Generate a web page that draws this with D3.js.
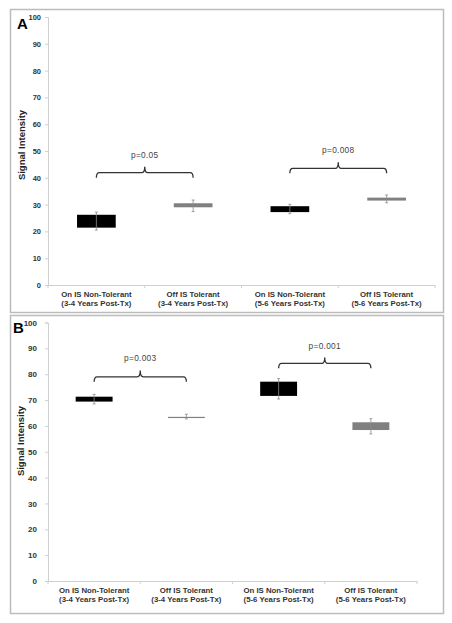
<!DOCTYPE html>
<html><head><meta charset="utf-8">
<script src="https://cdn.jsdelivr.net/npm/d3@7"></script>
<style>
html,body{margin:0;padding:0;background:#fff;}
svg{display:block;}
</style></head>
<body>
<script>
// ---- DATA ----
const labelLine1 = ["On IS Non-Tolerant", "Off IS Tolerant", "On IS Non-Tolerant", "Off IS Tolerant"];
const labelLine2 = ["(3-4 Years Post-Tx)", "(3-4 Years Post-Tx)", "(5-6 Years Post-Tx)", "(5-6 Years Post-Tx)"];
const boxColors = ["#000000", "#808080", "#000000", "#808080"];
const yTicks = [0, 10, 20, 30, 40, 50, 60, 70, 80, 90, 100];

// Panel A
const aBoxLow  = [21.4, 29.0, 27.2, 31.5];
const aBoxHigh = [26.2, 30.5, 29.4, 32.6];
const aWhiskLow  = [20.5, 27.4, 26.6, 30.7];
const aWhiskHigh = [27.2, 31.7, 30.1, 33.6];
const aPFrom = [0, 2];
const aPTo = [1, 3];
const aPEnd = [40.0, 41.7];
const aPBar = [41.9, 43.5];
const aPSpike = [44.1, 45.8];
const aPLabel = ["p=0.05", "p=0.008"];
const aPLabelY = [48.6, 50.4];

// Panel B
const bBoxLow  = [69.4, 63.1, 71.6, 58.4];
const bBoxHigh = [71.3, 63.5, 77.1, 61.4];
const bWhiskLow  = [68.5, 62.7, 70.4, 56.9];
const bWhiskHigh = [72.2, 64.5, 78.3, 62.8];
const bPFrom = [0, 2];
const bPTo = [1, 3];
const bPEnd = [77.1, 82.3];
const bPBar = [79.0, 84.2];
const bPSpike = [81.4, 86.5];
const bPLabel = ["p=0.003", "p=0.001"];
const bPLabelY = [86.2, 91.0];

const W = 452, H = 623;
const svg = d3.select("body").append("svg").attr("width", W).attr("height", H);
const NARROW = "'Liberation Sans Narrow', 'Arial Narrow', 'Liberation Sans', Arial, sans-serif";
const SANS = "'Liberation Sans', Arial, sans-serif";

function panel(cfg) {
  const g = svg.append("g");
  // frame
  g.append("rect").attr("x", cfg.frame[0] + 0.5).attr("y", cfg.frame[1] + 0.5)
    .attr("width", cfg.frame[2]).attr("height", cfg.frame[3])
    .attr("fill", "#fff").attr("stroke", "#bcbcbc").attr("stroke-width", 1.5);

  const x = d3.scaleBand().domain(d3.range(labelLine1.length)).range([cfg.x0, cfg.x1]).padding(0);
  const y = d3.scaleLinear().domain([0, 100]).range([cfg.y0, cfg.y1]);

  // y axis
  const ya = g.append("g").attr("transform", `translate(${cfg.x0},0)`)
    .call(d3.axisLeft(y).tickValues(yTicks).tickSize(3).tickPadding(cfg.tickPad));
  ya.select(".domain").attr("stroke", "#d0d0d0");
  ya.selectAll(".tick line").attr("stroke", "#d0d0d0");
  ya.selectAll(".tick text").attr("font-family", NARROW).attr("font-weight", "bold")
    .attr("font-size", cfg.tickFont).attr("fill", "#333");

  // x axis
  const xa = g.append("g").attr("transform", `translate(0,${cfg.y0})`)
    .call(d3.axisBottom(x).tickSize(0).tickFormat(""));
  xa.select(".domain").attr("stroke", "#d0d0d0");
  // category separator ticks
  const edges = d3.range(labelLine1.length + 1).map(i => i < labelLine1.length ? x(i) : x(labelLine1.length - 1) + x.bandwidth());
  g.selectAll("line.sep").data(edges).join("line").attr("class", "sep")
    .attr("x1", d => d).attr("x2", d => d).attr("y1", cfg.y0).attr("y2", cfg.y0 + 3)
    .attr("stroke", "#d0d0d0");

  // x labels
  g.selectAll("text.xl").data(labelLine1).join("text").attr("class", "xl")
    .attr("x", (d, i) => x(i) + x.bandwidth() / 2).attr("y", cfg.y0 + 12)
    .attr("text-anchor", "middle").attr("font-family", NARROW).attr("font-weight", "bold")
    .attr("font-size", 7.8).attr("fill", "#333").text(d => d);
  g.selectAll("text.xl2").data(labelLine2).join("text").attr("class", "xl2")
    .attr("x", (d, i) => x(i) + x.bandwidth() / 2).attr("y", cfg.y0 + 21)
    .attr("text-anchor", "middle").attr("font-family", NARROW).attr("font-weight", "bold")
    .attr("font-size", 7.8).attr("fill", "#333").text(d => d);

  // y title
  g.append("text").attr("transform", `translate(${cfg.titleX},${cfg.titleY}) rotate(-90)`)
    .attr("text-anchor", "middle").attr("font-family", NARROW).attr("font-weight", "bold")
    .attr("font-size", 9.5).attr("fill", "#222").text("Signal Intensity");

  // panel letter
  g.append("text").attr("x", cfg.letterX).attr("y", cfg.letterY)
    .attr("font-family", SANS).attr("font-weight", "bold").attr("font-size", 15)
    .attr("fill", "#000").text(cfg.letter);

  const bw = x.bandwidth() * 0.4;
  const cx = i => x(i) + x.bandwidth() / 2;

  // boxes
  g.selectAll("rect.box").data(cfg.boxLow).join("rect").attr("class", "box")
    .attr("x", (d, i) => cx(i) - bw / 2).attr("width", bw)
    .attr("y", (d, i) => y(cfg.boxHigh[i]))
    .attr("height", (d, i) => Math.max(1.2, y(d) - y(cfg.boxHigh[i])))
    .attr("fill", (d, i) => boxColors[i]);

  // whiskers
  const wg = g.selectAll("g.wh").data(cfg.boxLow).join("g").attr("class", "wh");
  wg.append("line").attr("x1", (d, i) => cx(i)).attr("x2", (d, i) => cx(i))
    .attr("y1", (d, i) => y(cfg.whiskLow[i])).attr("y2", (d, i) => y(cfg.whiskHigh[i]))
    .attr("stroke", "#8a8a8a").attr("stroke-width", 0.8);
  wg.append("line").attr("x1", (d, i) => cx(i) - 1.5).attr("x2", (d, i) => cx(i) + 1.5)
    .attr("y1", (d, i) => y(cfg.whiskLow[i])).attr("y2", (d, i) => y(cfg.whiskLow[i]))
    .attr("stroke", "#8a8a8a").attr("stroke-width", 0.8);
  wg.append("line").attr("x1", (d, i) => cx(i) - 1.5).attr("x2", (d, i) => cx(i) + 1.5)
    .attr("y1", (d, i) => y(cfg.whiskHigh[i])).attr("y2", (d, i) => y(cfg.whiskHigh[i]))
    .attr("stroke", "#8a8a8a").attr("stroke-width", 0.8);

  // brackets
  cfg.pFrom.forEach((f, k) => {
    const xa1 = cx(f), xa2 = cx(cfg.pTo[k]);
    const xm = (xa1 + xa2) / 2;
    const ye = y(cfg.pEnd[k]), yb = y(cfg.pBar[k]), ys = y(cfg.pSpike[k]);
    const r = 3;
    const p = d3.path();
    p.moveTo(xa1, ye);
    p.quadraticCurveTo(xa1, yb, xa1 + r, yb);
    p.lineTo(xm - r, yb);
    p.quadraticCurveTo(xm, yb, xm, ys);
    p.quadraticCurveTo(xm, yb, xm + r, yb);
    p.lineTo(xa2 - r, yb);
    p.quadraticCurveTo(xa2, yb, xa2, ye);
    g.append("path").attr("d", p.toString()).attr("fill", "none")
      .attr("stroke", "#333").attr("stroke-width", 1.3);
    g.append("text").attr("x", xm).attr("y", y(cfg.pLabelY[k])).attr("dy", "0.35em")
      .attr("text-anchor", "middle").attr("font-family", SANS).attr("font-size", 8.3)
      .attr("letter-spacing", 0.3).attr("fill", "#444").text(cfg.pLabel[k]);
  });
}

panel({
  frame: [10, 9, 433, 303], x0: 48, x1: 435, y0: 285, y1: 17,
  tickPad: 4, tickFont: 7.5, titleX: 25, titleY: 145, letter: "A", letterX: 17, letterY: 29,
  boxLow: aBoxLow, boxHigh: aBoxHigh, whiskLow: aWhiskLow, whiskHigh: aWhiskHigh,
  pFrom: aPFrom, pTo: aPTo, pEnd: aPEnd, pBar: aPBar, pSpike: aPSpike, pLabel: aPLabel, pLabelY: aPLabelY
});
panel({
  frame: [10, 315, 433, 298], x0: 48, x1: 417, y0: 581, y1: 322.5,
  tickPad: 8, tickFont: 8, titleX: 23.5, titleY: 441, letter: "B", letterX: 13, letterY: 333,
  boxLow: bBoxLow, boxHigh: bBoxHigh, whiskLow: bWhiskLow, whiskHigh: bWhiskHigh,
  pFrom: bPFrom, pTo: bPTo, pEnd: bPEnd, pBar: bPBar, pSpike: bPSpike, pLabel: bPLabel, pLabelY: bPLabelY
});
</script>
</body></html>
